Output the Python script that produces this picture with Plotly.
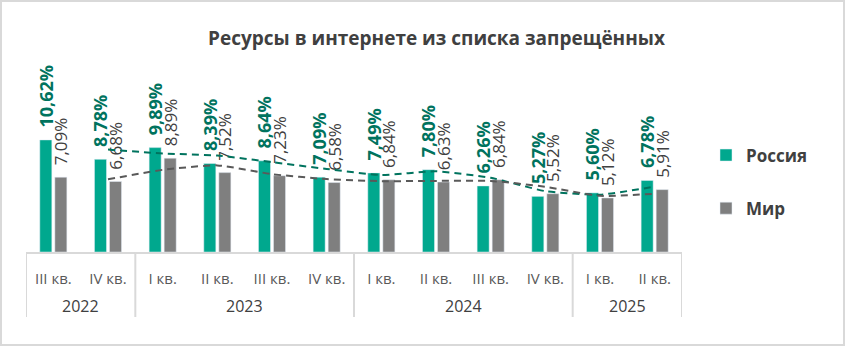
import plotly.graph_objects as go
import numpy as np

# ---- data ----
years = ["2022", "2022", "2023", "2023", "2023", "2023",
         "2024", "2024", "2024", "2024", "2025", "2025"]
quarters = ["III кв.", "IV кв.", "I кв.", "II кв.", "III кв.", "IV кв.",
            "I кв.", "II кв.", "III кв.", "IV кв.", "I кв.", "II кв."]
russia = [10.62, 8.78, 9.89, 8.39, 8.64, 7.09, 7.49, 7.80, 6.26, 5.27, 5.60, 6.78]
world = [7.09, 6.68, 8.89, 7.52, 7.23, 6.58, 6.84, 6.63, 6.84, 5.52, 5.12, 5.91]
series_names = ["Россия", "Мир"]
title_text = "Ресурсы в интернете из списка запрещённых"

# ---- styles ----
TEAL = "#00A88E"
GRAY = "#7F7F7F"
TEAL_DARK = "#00735E"
GRAY_DARK = "#595959"
TEXT = "#404040"
LINE = "#D9D9D9"
FONT = "Open Sans"

def fmt(v):
    return "\u00a0\u00a0" + f"{v:.2f}%".replace(".", ",")

def moving_avg(vals, period=2):
    a = np.array(vals, dtype=float)
    return list(np.convolve(a, np.ones(period) / period, mode="valid"))

idx = list(range(len(quarters)))

fig = go.Figure()
fig.add_trace(go.Bar(
    x=idx, y=russia, name=series_names[0], marker_color=TEAL,
    text=[fmt(v) for v in russia], textposition="outside", textangle=-90,
    textfont=dict(family=FONT, size=18, color=TEAL_DARK, weight="bold"),
    constraintext="none", cliponaxis=False, legendgroup="a",
))
fig.add_trace(go.Bar(
    x=idx, y=world, name=series_names[1], marker_color=GRAY,
    text=[fmt(v) for v in world], textposition="outside", textangle=-90,
    textfont=dict(family=FONT, size=17, color=TEXT),
    constraintext="none", cliponaxis=False, legendgroup="b",
))

# moving-average (period 2) trendlines, as in the source chart
ma_r = moving_avg(russia)
ma_w = moving_avg(world)
fig.add_trace(go.Scatter(
    x=idx[1:], y=ma_r, mode="lines", showlegend=False, hoverinfo="skip",
    line=dict(color=TEAL_DARK, width=2, dash="7px,5px", shape="spline", smoothing=0.5),
    cliponaxis=False,
))
fig.add_trace(go.Scatter(
    x=idx[1:], y=ma_w, mode="lines", showlegend=False, hoverinfo="skip",
    line=dict(color=GRAY_DARK, width=2, dash="7px,5px", shape="spline", smoothing=0.5),
    cliponaxis=False,
))

W, H = 845, 346
ml, mr, mt, mb = 26, 163, 62, 94
pw, ph = W - ml - mr, H - mt - mb

# year groups -> dividers and year labels
groups = []
for i, y in enumerate(years):
    if groups and groups[-1][0] == y:
        groups[-1][2] = i
    else:
        groups.append([y, i, i])

div_bottom = -(317 - (H - mb)) / ph
year_y = -(306 - (H - mb)) / ph

shapes = []
bounds = sorted({g[1] - 0.5 for g in groups} | {g[2] + 0.5 for g in groups})
for b in bounds:
    shapes.append(dict(type="line", xref="x", yref="paper", x0=b, x1=b,
                       y0=0, y1=div_bottom, line=dict(color=LINE, width=2)))
shapes.append(dict(type="rect", xref="paper", yref="paper",
                   x0=(1 - ml) / pw, x1=(W - 1 - ml) / pw,
                   y0=-(H - 1 - mt - ph) / ph, y1=(H - 1 - mb) / ph,
                   line=dict(color=LINE, width=2), fillcolor="rgba(0,0,0,0)", layer="below"))

annotations = []
for name, a, b in groups:
    annotations.append(dict(x=(a + b) / 2, y=year_y, xref="x", yref="paper",
                            text=name, showarrow=False, xanchor="center", yanchor="middle",
                            font=dict(family=FONT, size=16, color=TEXT)))

fig.update_layout(
    width=W, height=H,
    margin=dict(l=ml, r=mr, t=mt, b=mb),
    paper_bgcolor="white", plot_bgcolor="white",
    barmode="group", bargap=0.45, bargroupgap=0.2,
    font=dict(family=FONT, color=TEXT),
    title=dict(text=title_text, x=436.5 / W, xanchor="center",
               y=1 - 38 / H, yanchor="middle", xref="container", yref="container",
               font=dict(family=FONT, size=19, color=TEXT, weight="bold")),
    showlegend=True,
    legend=dict(x=(706 - ml) / pw, xanchor="left", y=(252 - 182) / ph, yanchor="middle",
                orientation="v", tracegroupgap=28,
                font=dict(family=FONT, size=17, color=TEXT, weight="bold"),
                itemwidth=30, bgcolor="rgba(0,0,0,0)"),
    xaxis=dict(range=[-0.5, len(quarters) - 0.5], tickmode="array", tickvals=idx,
               ticktext=quarters, showline=True, linecolor=LINE, linewidth=2,
               ticks="", ticklabelstandoff=12,
               tickfont=dict(family=FONT, size=15, color=GRAY_DARK),
               showgrid=False, zeroline=False, fixedrange=True),
    yaxis=dict(visible=False, range=[0, 18], showgrid=False, zeroline=False),
    shapes=shapes,
    annotations=annotations,
)

fig.write_html("out.html")
